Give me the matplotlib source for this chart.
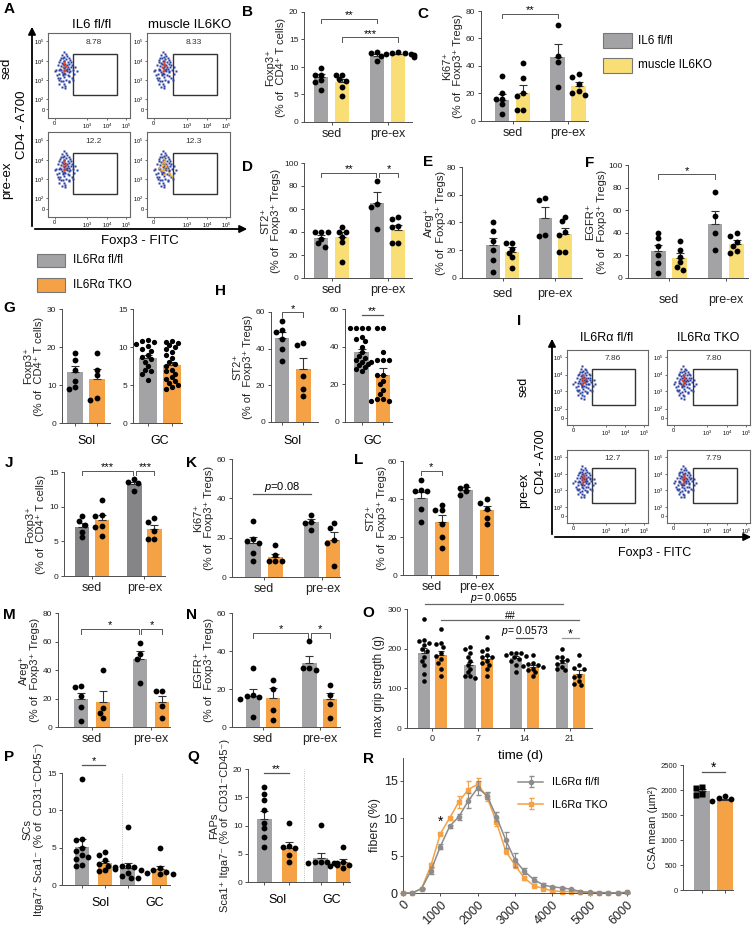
import numpy as np
import matplotlib
matplotlib.use('Agg')
import matplotlib.pyplot as plt
from matplotlib.patches import Rectangle, FancyArrowPatch

plt.rcParams['font.family'] = ['Liberation Sans', 'DejaVu Sans']
plt.rcParams['mathtext.fontset'] = 'custom'
plt.rcParams['mathtext.rm'] = 'Liberation Sans'
plt.rcParams['mathtext.it'] = 'Liberation Sans:italic'

W, H = 756, 930
fig = plt.figure(figsize=(W / 100, H / 100), dpi=100)

gray = '#A3A3A6'
dgray = '#858587'
yellow = '#F9DE76'
orange = '#F5A145'
axc = '#4D4D4D'
txtc = '#222222'
errc = '#333333'
blue = '#2B3F9E'
red = '#E8401C'
flow_orange = '#F5A623'

# ---------------- data ----------------
# order inside each panel: sed fl, sed KO, pre-ex fl, pre-ex KO
B_mean = [8.1, 7.3, 12.0, 12.3]
B_sem = [0.6, 0.6, 0.4, 0.15]
B_pts = [[9.9, 8.6, 8.5, 7.6, 7.3, 5.9], [8.6, 8.6, 7.4, 6.3, 4.8, 7.8],
         [12.8, 12.6, 12.0, 11.0], [12.8, 12.6, 12.4, 12.3, 12.1, 11.9, 12.5]]
C_mean = [15.5, 20.5, 46.5, 25.5]
C_sem = [4, 5.5, 9.5, 3]
C_pts = [[33, 20, 16, 16, 12, 5], [42, 31, 20, 18, 8, 8], [70, 47, 43, 25], [34, 32, 27, 22, 20, 19]]
D_mean = [34.5, 36, 65, 42]
D_sem = [2.5, 4, 9.5, 4]
D_pts = [[40, 40, 40, 34, 30, 27], [44, 40, 40, 36, 31, 14], [84, 64, 62, 43], [53, 51, 45, 44, 30, 30]]
E_mean = [23.5, 19, 43.5, 31.5]
E_sem = [5, 3, 8, 4.5]
E_pts = [[40, 34, 27, 20, 13, 4], [25, 25, 21, 18, 15, 7], [58, 56, 30, 31], [44, 41, 33, 31, 19, 19]]
F_mean = [23.5, 18, 48, 30]
F_sem = [5.5, 4, 11, 3.5]
F_pts = [[40, 35, 28, 20, 13, 4], [33, 25, 19, 14, 10, 7], [76, 55, 40, 25], [40, 37, 32, 28, 22, 24]]

G_sol_mean = [13.5, 11.7]
G_sol_sem = [1.6, 2.4]
G_sol_pts = [[18.5, 16.5, 14, 11, 9.5, 9], [18.5, 14, 12.5, 6.5, 6]]
G_gc_mean = [8.5, 7.6]
G_gc_sem = [0.4, 0.45]
G_gc_pts = [[10.9, 10.8, 10.7, 10.4, 10.1, 9.8, 9.5, 9.0, 8.7, 8.4, 8.0, 7.5, 7.0, 6.8, 6.5, 5.7],
            [10.8, 10.7, 10.5, 10.2, 10.0, 9.7, 9.4, 9.0, 8.5, 8.0, 7.8, 7.5, 7.0, 6.8, 6.5, 6.0,
             5.8, 5.5, 5.3, 5.0, 4.7, 4.5]]
H_sol_mean = [46, 29]
H_sol_sem = [3, 6]
H_sol_pts = [[55, 50, 49, 45, 40, 33], [43, 42, 25, 18, 14]]
H_gc_mean = [37, 25]
H_gc_sem = [2, 3.5]
H_gc_pts = [[50, 50, 50, 50, 45, 44, 43, 40, 37, 35, 34, 33, 32, 31, 30, 29, 28, 27],
            [50, 50, 37, 33, 33, 32, 33, 25, 25, 22, 20, 17, 15, 12, 12, 11, 11]]

J_mean = [7.1, 8.1, 13.3, 6.8]
J_sem = [0.5, 0.7, 0.3, 0.6]
J_pts = [[8.6, 7.9, 7.4, 6.4, 5.6], [10.9, 8.8, 8.7, 7.1, 7.2, 5.7], [14.0, 13.6, 13.4, 12.3],
         [8.3, 7.8, 6.5, 5.4, 5.3]]
K_mean = [17.5, 10, 28, 19]
K_sem = [3, 1.7, 1.5, 3.8]
K_pts = [[28.5, 19.5, 18.5, 17.5, 12, 8], [16.5, 11, 8, 8, 8], [31.5, 28, 27.5, 24], [27.5, 25, 19, 17.5, 5.5]]
L_mean = [40.5, 28, 45, 34]
L_sem = [3.3, 3.7, 1.2, 2.5]
L_pts = [[50, 45, 44, 44, 35, 28], [37, 34, 34, 27, 20, 14], [47, 46, 44, 42], [40, 38, 35, 30, 27]]
M_mean = [19.5, 17.5, 47.5, 17.5]
M_sem = [4.5, 7.5, 6, 4.5]
M_pts = [[29, 28, 22, 14, 4], [40, 13, 10, 6], [59, 51, 48, 31], [25, 25, 15, 6]]
N_mean = [16.5, 15.5, 33.5, 14.5]
N_sem = [3.5, 5, 4, 3.5]
N_pts = [[31, 17, 16.5, 16, 15, 5.5], [25, 20, 9, 3.5], [45.5, 31, 31, 30], [22, 17, 12, 5]]

O_days = ['0', '7', '14', '21']
O_fl_mean = [190, 158, 176, 165]
O_fl_sem = [12, 8, 5, 6]
O_ko_mean = [183, 175, 155, 137]
O_ko_sem = [11, 7, 5, 8]
O_fl_pts = [[275, 222, 220, 215, 210, 200, 195, 180, 170, 160, 135, 118],
            [205, 200, 190, 180, 170, 160, 150, 140, 130, 130, 125],
            [190, 190, 188, 185, 182, 180, 175, 170, 160, 140],
            [200, 180, 178, 172, 168, 162, 155, 150, 145]]
O_ko_pts = [[250, 215, 212, 205, 190, 182, 175, 165, 150, 130],
            [230, 200, 195, 185, 180, 178, 170, 165, 160, 150, 130],
            [185, 165, 162, 160, 157, 155, 150, 145, 140, 130],
            [183, 158, 152, 150, 132, 128, 118, 112, 108]]

# order: Sol fl, Sol KO, GC fl, GC KO
P_mean = [5.1, 2.9, 2.3, 2.1]
P_sem = [1.1, 0.3, 0.6, 0.45]
P_pts = [[14.2, 6.2, 6.0, 5.0, 4.5, 4.0, 3.8, 3.5, 2.7, 2.6], [4.4, 4.0, 3.3, 2.8, 2.6, 2.4, 2.0, 1.9],
         [7.8, 2.6, 2.5, 2.4, 2.2, 2.0, 1.6, 1.2, 1.0, 0.9], [5.0, 2.3, 2.0, 1.8, 1.6, 1.5, 1.5]]
Q_mean = [11.2, 6.1, 4.2, 3.5]
Q_sem = [1.3, 1.0, 0.9, 0.6]
Q_pts = [[16.8, 15.5, 14.5, 12.8, 10.5, 9.5, 8.0, 6.2], [10.4, 6.3, 6.2, 6.0, 4.8, 3.6],
         [10.1, 3.6, 3.5, 3.4, 3.3, 3.2, 3.0, 3.5], [6.2, 3.5, 3.3, 3.0, 2.8, 2.5]]

R_bins = [0, 250, 500, 750, 1000, 1250, 1500, 1750, 2000, 2250, 2500, 2750, 3000,
          3250, 3500, 3750, 4000, 4250, 4500, 4750, 5000, 5250, 5500, 5750, 6000]
R_fl = [0, 0, 0.6, 3.0, 6.2, 8.9, 10.2, 12.3, 14.0, 13.0, 10.2, 7.1, 4.4,
        2.9, 1.8, 1.1, 0.8, 0.7, 0.5, 0.2, 0.1, 0.05, 0.05, 0, 0.1]
R_fl_err = [0, 0, 0.1, 0.5, 0.3, 0.2, 0.4, 1.0, 0.9, 0.5, 0.6, 1.1, 0.9,
            0.4, 0.3, 0.2, 0.1, 0.1, 0.1, 0.1, 0, 0, 0, 0, 0.1]
R_ko = [0, 0, 0.6, 3.7, 7.9, 10.0, 12.2, 13.8, 14.5, 12.8, 9.5, 5.6, 3.7,
        2.0, 1.0, 0.6, 0.3, 0.2, 0.2, 0.1, 0.05, 0.05, 0, 0, 0.1]
R_ko_err = [0, 0, 0.1, 0.3, 0.2, 0.2, 0.8, 1.1, 0.8, 0.5, 0.5, 0.4, 0.3,
            0.2, 0.2, 0.1, 0.1, 0.1, 0, 0, 0, 0, 0, 0, 0.1]
CSA_mean = [1980, 1810]
CSA_sem = [40, 20]
CSA_pts = [[2060, 2040, 1920, 1900], [1880, 1840, 1820, 1790]]

# flow cytometry dot clouds (axes fraction)
cloud_x = [0.10, 0.12, 0.13, 0.14, 0.15, 0.15, 0.16, 0.16, 0.17, 0.17, 0.18, 0.18, 0.18, 0.19, 0.19,
           0.19, 0.20, 0.20, 0.20, 0.21, 0.21, 0.21, 0.22, 0.22, 0.23, 0.23, 0.24, 0.24, 0.25, 0.25,
           0.26, 0.27, 0.28, 0.29, 0.30, 0.32, 0.35, 0.08, 0.14, 0.17, 0.20, 0.23, 0.26, 0.16, 0.19,
           0.22, 0.25, 0.12, 0.28, 0.21, 0.11, 0.13, 0.15, 0.17, 0.19, 0.21, 0.23, 0.25, 0.27, 0.29,
           0.31, 0.33, 0.14, 0.16, 0.18, 0.22, 0.24, 0.26, 0.20, 0.18]
cloud_y = [0.57, 0.62, 0.52, 0.66, 0.58, 0.47, 0.70, 0.61, 0.54, 0.74, 0.63, 0.50, 0.44, 0.67, 0.59,
           0.40, 0.72, 0.56, 0.48, 0.64, 0.60, 0.52, 0.69, 0.45, 0.62, 0.55, 0.66, 0.50, 0.58, 0.42,
           0.63, 0.55, 0.60, 0.47, 0.57, 0.52, 0.55, 0.55, 0.56, 0.65, 0.62, 0.58, 0.49, 0.43, 0.53,
           0.75, 0.70, 0.47, 0.66, 0.38, 0.50, 0.45, 0.68, 0.36, 0.78, 0.35, 0.73, 0.44, 0.68, 0.62,
           0.45, 0.60, 0.40, 0.56, 0.70, 0.57, 0.60, 0.54, 0.67, 0.52]
hot_x = [0.18, 0.20, 0.21, 0.19, 0.22, 0.20]
hot_y = [0.60, 0.63, 0.57, 0.55, 0.61, 0.66]
hot2_x = [0.15, 0.18, 0.20, 0.23, 0.26, 0.30, 0.21, 0.17, 0.24, 0.28]
hot2_y = [0.58, 0.64, 0.50, 0.60, 0.52, 0.48, 0.68, 0.55, 0.57, 0.50]
A_gates = ['8.78', '8.33', '12.2', '12.3']
I_gates = ['7.86', '7.80', '12.7', '7.79']


# ---------------- helpers ----------------
def rect(x0, y0, x1, y1):
    return [x0 / W, 1 - y1 / H, (x1 - x0) / W, (y1 - y0) / H]


def ftext(x, y, s, **kw):
    fig.text(x / W, 1 - y / H, s, **kw)


def farrow(x0, y0, x1, y1):
    a = FancyArrowPatch((x0 / W, 1 - y0 / H), (x1 / W, 1 - y1 / H), transform=fig.transFigure,
                        arrowstyle='-|>', mutation_scale=11, lw=1.3, color='k')
    fig.add_artist(a)


def fbox(x0, y0, x1, y1, fc):
    fig.add_artist(Rectangle((x0 / W, 1 - y1 / H), (x1 - x0) / W, (y1 - y0) / H,
                             transform=fig.transFigure, fc=fc, ec='#777777', lw=0.8))


def style(ax, xlim, ylim, yticks, fs=6):
    ax.set_xlim(*xlim)
    ax.set_ylim(*ylim)
    ax.set_yticks(yticks)
    for s in ['top', 'right']:
        ax.spines[s].set_visible(False)
    for s in ['left', 'bottom']:
        ax.spines[s].set_linewidth(0.7)
        ax.spines[s].set_color(axc)
    ax.tick_params(labelsize=fs, length=2.5, width=0.7, color=axc, labelcolor=txtc, pad=1.5)
    ax.patch.set_alpha(0)


def swarm(ax, x0, vals, d_px):
    tr = ax.transData
    inv = tr.inverted()
    order = np.argsort(vals)[::-1]
    placed = []
    xs = np.zeros(len(vals))
    for i in order:
        px, py = tr.transform((x0, vals[i]))
        cx = px
        for k in [0, -1, 1, -2, 2, -3, 3, -4, 4, -5, 5]:
            cx = px + k * 0.55 * d_px
            if all((cx - qx) ** 2 + (py - qy) ** 2 >= (0.9 * d_px) ** 2 for qx, qy in placed):
                break
        placed.append((cx, py))
        xs[i] = inv.transform((cx, py))[0]
    return xs


def bars(ax, pos, mean, sem, pts, color, width, ms=4.2, marker='o', cap=3):
    ax.bar(pos, mean, width, color=color, zorder=1)
    ax.errorbar(pos, mean, yerr=[[0], [sem]], fmt='none', ecolor=errc, elinewidth=0.8,
                capsize=cap, capthick=0.8, zorder=2)
    xs = swarm(ax, pos, pts, ms * 100 / 72)
    ax.plot(xs, pts, ls='none', marker=marker, ms=ms, color='k', mec='none', zorder=3, clip_on=False)


def bracket(ax, x1, x2, y, label, drop=None, fs=8, lc='#555555', up=0.3):
    if drop:
        ax.plot([x1, x1, x2, x2], [y - drop, y, y, y - drop], color=lc, lw=0.7, clip_on=False)
    else:
        ax.plot([x1, x2], [y, y], color=lc, lw=0.9, clip_on=False)
    ax.annotate(label, xy=((x1 + x2) / 2, y), xytext=(0, up), textcoords='offset points',
                ha='center', va='baseline', fontsize=fs, annotation_clip=False)


def ylab(ax, s, fs=8, pad=2):
    ax.set_ylabel(s, fontsize=fs, linespacing=1.15, labelpad=pad, color=txtc)


def sed_panel(r, xlim, ylim, yticks, off, width, means, sems, pts, c_fl, c_ko, ms=4.2):
    ax = fig.add_axes(rect(*r))
    style(ax, xlim, ylim, yticks)
    ax.set_xticks([0, 1])
    ax.set_xticklabels(['sed', 'pre-ex'], fontsize=9)
    pos = [-off, off, 1 - off, 1 + off]
    cols = [c_fl, c_ko, c_fl, c_ko]
    for i in range(4):
        bars(ax, pos[i], means[i], sems[i], pts[i], cols[i], width, ms=ms)
    return ax, pos


def flow(r, gate, hot_c, extra=False):
    ax = fig.add_axes(rect(*r))
    ax.set_xlim(0, 1)
    ax.set_ylim(0, 1)
    ax.plot(cloud_x, cloud_y, 's', ms=1.6, color=blue, mec='none')
    ax.plot(hot_x, hot_y, 's', ms=1.8, color=hot_c, mec='none')
    if extra:
        ax.plot(hot2_x, hot2_y, 's', ms=1.8, color=hot_c, mec='none')
    ax.add_patch(Rectangle((0.31, 0.27), 0.53, 0.48, fill=False, ec='#333333', lw=1.0))
    ax.text(0.56, 0.89, gate, ha='center', va='center', fontsize=6, color='#333333')
    ax.set_xticks([0.08, 0.48, 0.72, 0.95])
    ax.set_xticklabels(['0', '10$^3$', '10$^4$', '10$^5$'])
    ax.set_yticks([0.1, 0.22, 0.45, 0.67, 0.9])
    ax.set_yticklabels(['0', '10$^2$', '10$^3$', '10$^4$', '10$^5$'])
    ax.tick_params(labelsize=4, length=1.5, width=0.5, pad=1, color='#333333')
    for s in ax.spines.values():
        s.set_color('#666666')
        s.set_linewidth(0.8)
    return ax


# ---------------- panel A ----------------
flow((48, 33, 130, 118), A_gates[0], red)
flow((147, 33, 230, 118), A_gates[1], red)
flow((48, 132, 130, 217), A_gates[2], red)
flow((147, 132, 230, 217), A_gates[3], flow_orange, extra=True)
farrow(32, 229, 32, 24)
farrow(32, 229, 250, 229)
ftext(92, 25, 'IL6 fl/fl', ha='center', va='center', fontsize=9.5)
ftext(190, 25, 'muscle IL6KO', ha='center', va='center', fontsize=9.5)
ftext(7, 68, 'sed', ha='center', va='center', fontsize=9.5, rotation=90)
ftext(7, 180, 'pre-ex', ha='center', va='center', fontsize=9.5, rotation=90)
ftext(22, 125, 'CD4 - A700', ha='center', va='center', fontsize=9.5, rotation=90)
ftext(140, 241, 'Foxp3 - FITC', ha='center', va='center', fontsize=9.5)

# legends
fbox(603, 33, 632, 48, gray)
fbox(603, 58, 632, 73, yellow)
ftext(638, 41, 'IL6 fl/fl', va='center', fontsize=8.5)
ftext(638, 65, 'muscle IL6KO', va='center', fontsize=8.5)
fbox(37, 254, 65, 267, gray)
fbox(37, 278, 65, 292, orange)
ftext(73, 260, 'IL6Rα fl/fl', va='center', fontsize=8.5)
ftext(73, 285, 'IL6Rα TKO', va='center', fontsize=8.5)

# ---------------- B - F ----------------
ax, p = sed_panel((304, 12, 412, 122), (-0.5, 1.43), (0, 20), [0, 5, 10, 15, 20], 0.1875, 0.25,
                  B_mean, B_sem, B_pts, gray, yellow)
bracket(ax, p[0], p[2], 18.8, '**', drop=0.8)
bracket(ax, p[1], p[3], 15.4, '***', drop=0.8)
ylab(ax, 'Foxp3⁺\n(% of  CD4⁺ T cells)')

ax, p = sed_panel((481, 11, 588, 121), (-0.57, 1.36), (0, 80), [0, 20, 40, 60, 80], 0.19, 0.26,
                  C_mean, C_sem, C_pts, gray, yellow)
bracket(ax, p[0], p[2], 78, '**', drop=3)
ylab(ax, 'Ki67⁺\n(% of  Foxp3⁺ Tregs)')

ax, p = sed_panel((304, 163, 412, 278), (-0.5, 1.43), (0, 100), [0, 20, 40, 60, 80, 100], 0.1875, 0.25,
                  D_mean, D_sem, D_pts, gray, yellow)
bracket(ax, p[0], p[2] - 0.02, 91.5, '**', drop=4)
bracket(ax, p[2] + 0.02, p[3], 91.5, '*', drop=4)
ylab(ax, 'ST2⁺\n(% of  Foxp3⁺ Tregs)')

ax, p = sed_panel((462, 167, 582, 278), (-0.77, 1.51), (0, 80), [0, 20, 40, 60, 80], 0.186, 0.26,
                  E_mean, E_sem, E_pts, gray, yellow)
ax.tick_params(axis='x', pad=5)
ylab(ax, 'Areg⁺\n(% of  Foxp3⁺ Tregs)', pad=1)

ax, p = sed_panel((628, 165, 748, 278), (-0.72, 1.39), (0, 100), [0, 20, 40, 60, 80, 100], 0.19, 0.26,
                  F_mean, F_sem, F_pts, gray, yellow)
ax.tick_params(axis='x', pad=9)
bracket(ax, p[0], p[2], 92, '*', drop=4)
ylab(ax, 'EGFR⁺\n(% of  Foxp3⁺ Tregs)', pad=1)


# ---------------- G, H ----------------
def pair_panel(r, xlim, ylim, yticks, width, means, sems, pts, ms=4.2):
    ax = fig.add_axes(rect(*r))
    style(ax, xlim, ylim, yticks)
    ax.set_xticks([0, 1])
    ax.set_xticklabels(['', ''])
    bars(ax, 0, means[0], sems[0], pts[0], gray, width, ms=ms)
    bars(ax, 1, means[1], sems[1], pts[1], orange, width, ms=ms)
    return ax


ax = pair_panel((62, 309, 110, 423), (-0.6, 1.6), (0, 30), [0, 10, 20, 30], 0.72, G_sol_mean, G_sol_sem,
                G_sol_pts)
ylab(ax, 'Foxp3⁺\n(% of  CD4⁺ T cells)')
pair_panel((133, 309, 182, 423), (-0.62, 1.42), (0, 15), [0, 5, 10, 15], 0.75, G_gc_mean, G_gc_sem,
           G_gc_pts, ms=3.8)
ftext(86, 441, 'Sol', ha='center', va='center', fontsize=9)
ftext(160, 441, 'GC', ha='center', va='center', fontsize=9)

ax = pair_panel((271, 312, 318, 422), (-0.52, 1.7), (0, 60), [0, 20, 40, 60], 0.7, H_sol_mean, H_sol_sem,
                H_sol_pts)
bracket(ax, 0, 1, 60, '*', drop=2.5)
ylab(ax, 'ST2⁺\n(% of  Foxp3⁺ Tregs)')
ax = pair_panel((345, 309, 392, 422), (-0.8, 1.43), (0, 60), [0, 20, 40, 60], 0.7, H_gc_mean, H_gc_sem,
                H_gc_pts, ms=3.8)
bracket(ax, 0, 1, 57, '**')
ftext(292, 441, 'Sol', ha='center', va='center', fontsize=9)
ftext(373, 441, 'GC', ha='center', va='center', fontsize=9)

# ---------------- panel I ----------------
flow((567, 350, 648, 425), I_gates[0], red)
flow((667, 350, 750, 425), I_gates[1], red)
flow((567, 450, 648, 523), I_gates[2], red)
flow((667, 450, 750, 523), I_gates[3], red)
farrow(552, 537, 552, 336)
farrow(552, 537, 754, 537)
ftext(607, 338, 'IL6Rα fl/fl', ha='center', va='center', fontsize=9)
ftext(708, 338, 'IL6Rα TKO', ha='center', va='center', fontsize=9)
ftext(524, 387, 'sed', ha='center', va='center', fontsize=9, rotation=90)
ftext(524, 490, 'pre-ex', ha='center', va='center', fontsize=9, rotation=90)
ftext(541, 462, 'CD4 - A700', ha='center', va='center', fontsize=9, rotation=90)
ftext(655, 553, 'Foxp3 - FITC', ha='center', va='center', fontsize=9)

# ---------------- J - N ----------------
ax, p = sed_panel((64, 472, 165, 576), (-0.53, 1.39), (0, 15), [0, 5, 10, 15], 0.19, 0.27,
                  J_mean, J_sem, J_pts, dgray, orange)
bracket(ax, p[0], p[2] - 0.02, 15.2, '***', drop=0.6)
bracket(ax, p[2] + 0.02, p[3], 15.2, '***', drop=0.6)
ylab(ax, 'Foxp3⁺\n(% of  CD4⁺ T cells)')

ax, p = sed_panel((232, 459, 340, 577), (-0.55, 1.3), (0, 60), [0, 20, 40, 60], 0.19, 0.26,
                  K_mean, K_sem, K_pts, gray, orange)
bracket(ax, p[0], p[2], 42, '$p$=0.08', up=3)
ylab(ax, 'Ki67⁺\n(% of  Foxp3⁺ Tregs)')

ax, p = sed_panel((403, 461, 498, 575), (-0.63, 1.48), (0, 60), [0, 20, 40, 60], 0.23, 0.31,
                  L_mean, L_sem, L_pts, gray, orange)
bracket(ax, p[0], p[1], 55, '*', drop=2.5)
ylab(ax, 'ST2⁺\n(% of  Foxp3⁺ Tregs)', pad=1)

ax, p = sed_panel((58, 613, 170, 727), (-0.58, 1.32), (0, 80), [0, 20, 40, 60, 80], 0.19, 0.24,
                  M_mean, M_sem, M_pts, gray, orange)
bracket(ax, p[0], p[2] - 0.02, 68.8, '*', drop=3.5)
bracket(ax, p[2] + 0.02, p[3], 68.8, '*', drop=3.5)
ylab(ax, 'Areg⁺\n(% of  Foxp3⁺ Tregs)')

ax, p = sed_panel((232, 613, 340, 727), (-0.55, 1.36), (0, 60), [0, 20, 40, 60], 0.18, 0.25,
                  N_mean, N_sem, N_pts, gray, orange)
bracket(ax, p[0], p[2] - 0.02, 49.6, '*', drop=2.5)
bracket(ax, p[2] + 0.02, p[3], 49.6, '*', drop=2.5)
ylab(ax, 'EGFR⁺\n(% of  Foxp3⁺ Tregs)')

# ---------------- O ----------------
ax = fig.add_axes(rect(407, 609, 592, 728))
style(ax, (-0.54, 3.48), (0, 300), [0, 100, 200, 300])
ax.set_xticks(range(4))
ax.set_xticklabels(O_days, fontsize=6.5)
for i in range(4):
    bars(ax, i - 0.17, O_fl_mean[i], O_fl_sem[i], O_fl_pts[i], gray, 0.26, ms=3.3, cap=2)
    bars(ax, i + 0.19, O_ko_mean[i], O_ko_sem[i], O_ko_pts[i], orange, 0.26, ms=3.3, cap=2)
bracket(ax, -0.15, 2.85, 312, '$p$= 0.0655', fs=7.5, lc='#666666', up=2)
bracket(ax, 0.2, 3.2, 272, '##', fs=7, lc='#666666', up=1)
bracket(ax, 1.83, 2.2, 227, '$p$= 0.0573', fs=7.5, lc='#555555', up=3)
bracket(ax, 2.83, 3.2, 227, '*', fs=9, lc='#999999')
ftext(520, 756, 'time (d)', ha='center', va='center', fontsize=9.5)
ylab(ax, 'max grip stregth (g)', fs=8.5)
ax.yaxis.set_label_coords(-0.12, 0.35)

# ---------------- P, Q ----------------
P_pos = [0, 1, 2.0, 3.39]
ax = fig.add_axes(rect(62, 773, 170, 885))
style(ax, (-0.87, 3.83), (0, 15), [0, 5, 10, 15])
ax.set_xticks(P_pos)
ax.set_xticklabels([''] * 4)
P_cols = [gray, orange, gray, orange]
for i in range(4):
    bars(ax, P_pos[i], P_mean[i], P_sem[i], P_pts[i], P_cols[i], 0.65, ms=4.2)
ax.axvline(1.74, color='#AAAAAA', lw=0.6, ls=':')
bracket(ax, 0, 1, 16.1, '*')
ftext(100, 903, 'Sol', ha='center', va='center', fontsize=9)
ftext(155, 903, 'GC', ha='center', va='center', fontsize=9)
ylab(ax, 'SCs\nItga7⁺ Sca1⁻ (% of  CD31⁻CD45⁻)', fs=8)

Q_pos = [0, 1, 2.28, 3.16]
ax = fig.add_axes(rect(248, 769, 350, 882))
style(ax, (-0.64, 3.44), (0, 20), [0, 5, 10, 15, 20])
ax.set_xticks(Q_pos)
ax.set_xticklabels([''] * 4)
for i in range(4):
    bars(ax, Q_pos[i], Q_mean[i], Q_sem[i], Q_pts[i], P_cols[i], 0.6, ms=4.2)
ax.axvline(1.6, color='#AAAAAA', lw=0.6, ls=':')
bracket(ax, 0, 1, 19.3, '**')
ftext(277, 900, 'Sol', ha='center', va='center', fontsize=9)
ftext(332, 900, 'GC', ha='center', va='center', fontsize=9)
ylab(ax, 'FAPs\nSca1⁺ Itga7⁻ (% of  CD31⁻CD45⁻)', fs=8)

# ---------------- R ----------------
ax = fig.add_axes(rect(403, 758, 627, 893))
style(ax, (0, 6000), (0, 18), [0, 5, 10, 15], fs=9)
ax.errorbar(R_bins, R_fl, yerr=R_fl_err, color='#8C8C8C', marker='o', ms=3, lw=1.1,
            elinewidth=0.8, capsize=1.8, label='IL6Rα fl/fl', clip_on=False, zorder=3)
ax.errorbar(R_bins, R_ko, yerr=R_ko_err, color=orange, marker='s', ms=3.3, lw=1.1,
            elinewidth=0.8, capsize=1.8, label='IL6Rα TKO', clip_on=False, zorder=2)
ax.set_xticks([0, 1000, 2000, 3000, 4000, 5000, 6000])
ax.set_xticklabels(['0', '1000', '2000', '3000', '4000', '5000', '6000'], rotation=45,
                   ha='right', rotation_mode='anchor', fontsize=9)
ax.annotate('*', xy=(1000, 9.5), ha='center', va='center', fontsize=10)
ax.legend(loc='upper left', bbox_to_anchor=(0.47, 0.93), frameon=False, fontsize=8,
          handlelength=2.2, labelspacing=1.1)
ylab(ax, 'fibers (%)', fs=9)

ax = fig.add_axes(rect(683, 765, 733, 890))
style(ax, (-0.83, 1.35), (0, 2500), [0, 500, 1000, 1500, 2000, 2500], fs=5.5)
ax.set_xticks([0, 1])
ax.set_xticklabels(['', ''])
bars(ax, 0, CSA_mean[0], CSA_sem[0], CSA_pts[0], gray, 0.7, ms=4.2, marker='s')
bars(ax, 1, CSA_mean[1], CSA_sem[1], CSA_pts[1], orange, 0.7, ms=4.2)
bracket(ax, 0, 1, 2366, '*', fs=10)
ylab(ax, 'CSA mean (µm²)', fs=8)

# ---------------- panel letters ----------------
letters = [('A', 9, 9), ('B', 247, 12), ('C', 423, 14), ('D', 247, 167), ('E', 428, 162),
           ('F', 590, 163), ('G', 9, 308), ('H', 221, 291), ('I', 519, 321), ('J', 9, 463),
           ('K', 191, 463), ('L', 359, 460), ('M', 9, 615), ('N', 191, 615), ('O', 368, 613),
           ('P', 9, 757), ('Q', 193, 757), ('R', 368, 759)]
for t, x, y in letters:
    ftext(x, y, t, ha='center', va='center', fontsize=11, fontweight='bold')

fig.savefig('out.png', dpi=100)
